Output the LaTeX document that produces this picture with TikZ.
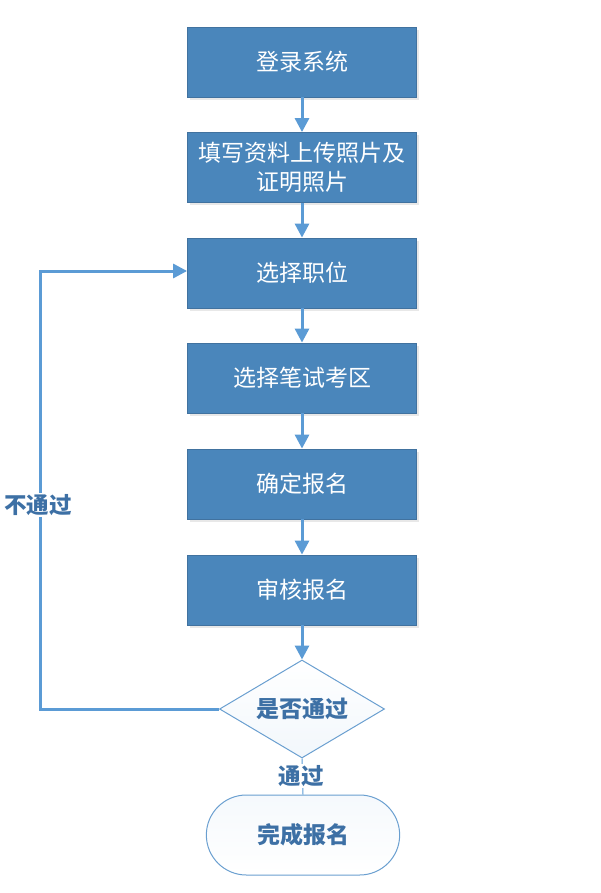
\documentclass[tikz,border=0pt]{standalone}
\usepackage{fontspec}
\setmainfont{Noto Sans CJK SC}
\usetikzlibrary{shapes.geometric,shapes.misc,arrows.meta,shadows}
\definecolor{boxfill}{HTML}{4A86BB}
\definecolor{boxline}{HTML}{41729F}
\definecolor{arrowc}{HTML}{5B9BD5}
\definecolor{darktext}{HTML}{3D70A5}
\definecolor{lightline}{HTML}{6A9FD0}
\begin{document}
\begin{tikzpicture}[x=1pt,y=-1pt,
  stepbox/.style={draw=boxline,line width=0.8pt,fill=boxfill,minimum width=229pt,minimum height=70pt,inner sep=0pt,text=white,font=\fontsize{23}{29}\selectfont,align=center,drop shadow={opacity=0.18,shadow xshift=2pt,shadow yshift=-3pt}},
  decision/.style={diamond,draw=lightline,line width=1pt,top color=white,bottom color=white!92!arrowc,minimum width=165pt,minimum height=98pt,inner sep=0pt,aspect=1.68,text=darktext,font=\bfseries\fontsize{23}{27}\selectfont},
  terminal/.style={rounded rectangle,draw=lightline,line width=1pt,top color=white!94!arrowc,bottom color=white,minimum width=200pt,minimum height=80pt,text=darktext,font=\bfseries\fontsize{23}{27}\selectfont},
  conn/.style={draw=arrowc,line width=3pt,-{Triangle[length=14pt,width=14pt]}},
  lbl/.style={fill=white,text=darktext,font=\bfseries\fontsize{22.5}{26}\selectfont,inner sep=1pt}
]
\useasboundingbox (0,0) rectangle (600,893);
\node[stepbox] (b1) at (302,62) {登录系统};
\node[stepbox] (b2) at (302,167.5) {填写资料上传照片及\\证明照片};
\node[stepbox] (b3) at (302,273) {选择职位};
\node[stepbox] (b4) at (302,378) {选择笔试考区};
\node[stepbox] (b5) at (302,484) {确定报名};
\node[stepbox] (b6) at (302,590) {审核报名};
\node[decision] (d) at (302,709) {是否通过};
\node[terminal] (t) at (303,835) {完成报名};
\draw[conn] (b1) -- (b2);
\draw[conn] (b2) -- (b3);
\draw[conn] (b3) -- (b4);
\draw[conn] (b4) -- (b5);
\draw[conn] (b5) -- (b6);
\draw[conn] (b6) -- (d);
\coordinate (c1) at (40,709);
\coordinate (c2) at (40,271);
\draw[conn] (d.west) -- (c1) -- (c2) -- (b3.west |- c2);
\node[lbl] (l1) at (38,505) {不通过};
\draw[draw=arrowc,line width=1pt] (d.south) -- (t.north);
\node[lbl] (l2) at (301,776) {通过};
\end{tikzpicture}
\end{document}
